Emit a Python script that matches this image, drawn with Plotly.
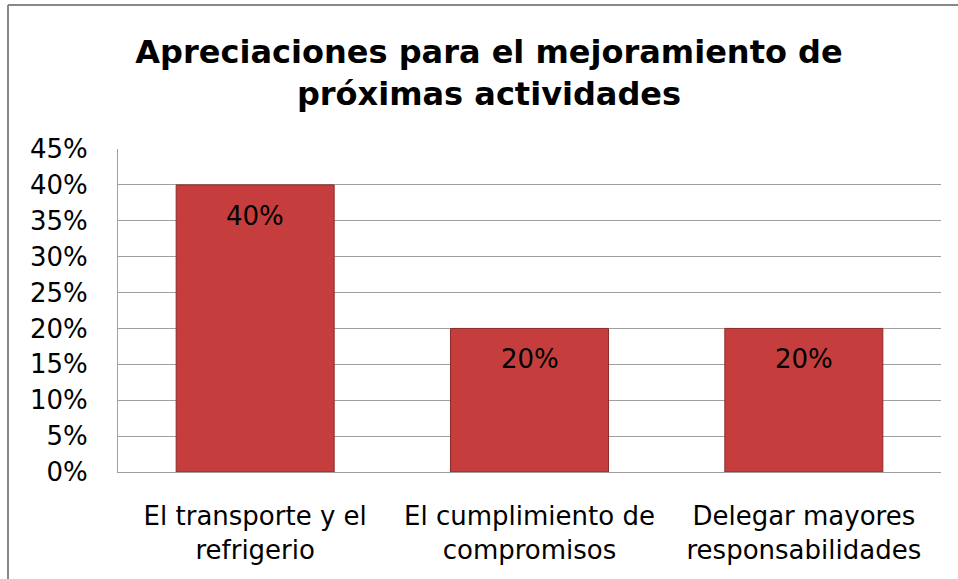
import plotly.graph_objects as go

categories = ["El transporte y el<br>refrigerio", "El cumplimiento de<br>compromisos", "Delegar mayores<br>responsabilidades"]
values = [0.40, 0.20, 0.20]
tick_vals = [0, 0.05, 0.10, 0.15, 0.20, 0.25, 0.30, 0.35, 0.40, 0.45]
tick_text = ["0%", "5%", "10%", "15%", "20%", "25%", "30%", "35%", "40%", "45%"]
title_text = "<b>Apreciaciones para el mejoramiento de<br>próximas actividades</b>"

W, H = 958, 579
L, R, T, B = 118, 17, 149, 107
pw, ph = W - L - R, H - T - B
FONT = "DejaVu Sans, Verdana, Arial"

fig = go.Figure()
fig.add_trace(go.Bar(
    x=categories, y=values,
    marker=dict(color="#c53e3d", line=dict(color="#8e2b2a", width=1)),
    width=0.576,
    hoverinfo="skip",
))

for c, v in zip(categories, values):
    fig.add_annotation(x=c, y=v, text=f"{round(v*100)}%", showarrow=False,
                       yanchor="middle", yshift=-31,
                       font=dict(family=FONT, size=26, color="#000000"))

# outer chart border (top and left visible; chart cropped on right/bottom)
gray = "#888888"
fig.add_shape(type="line", xref="paper", yref="paper",
              x0=(8 - L) / pw, x1=(W + 20 - L) / pw,
              y0=1 + (T - 5) / ph, y1=1 + (T - 5) / ph,
              line=dict(color=gray, width=2))
fig.add_shape(type="line", xref="paper", yref="paper",
              x0=(8 - L) / pw, x1=(8 - L) / pw,
              y0=1 + (T - 5) / ph, y1=-(B + 20) / ph,
              line=dict(color=gray, width=2))

fig.update_layout(
    width=W, height=H,
    margin=dict(l=L, r=R, t=T, b=B),
    paper_bgcolor="white", plot_bgcolor="white",
    font=dict(family=FONT, size=26, color="#000000"),
    title=dict(text=title_text, x=489 / W, xanchor="center", xref="container",
               y=1 - 63 / H, yanchor="middle", yref="container",
               font=dict(family=FONT, size=32, color="#000000")),
    showlegend=False,
)
fig.update_yaxes(range=[0, 0.45], tickvals=tick_vals, ticktext=tick_text,
                 showgrid=True, gridcolor="#a0a0a0", gridwidth=1,
                 showline=True, linecolor="#a0a0a0", linewidth=1,
                 zeroline=False, ticks="", ticklabelstandoff=24,
                 tickfont=dict(family=FONT, size=26))
fig.update_xaxes(showline=True, linecolor="#a0a0a0", linewidth=1, ticks="",
                 ticklabelstandoff=21, tickfont=dict(family=FONT, size=26))

fig.write_html("out.html", config={"displayModeBar": False},
               post_script="document.body.style.margin='0';")
